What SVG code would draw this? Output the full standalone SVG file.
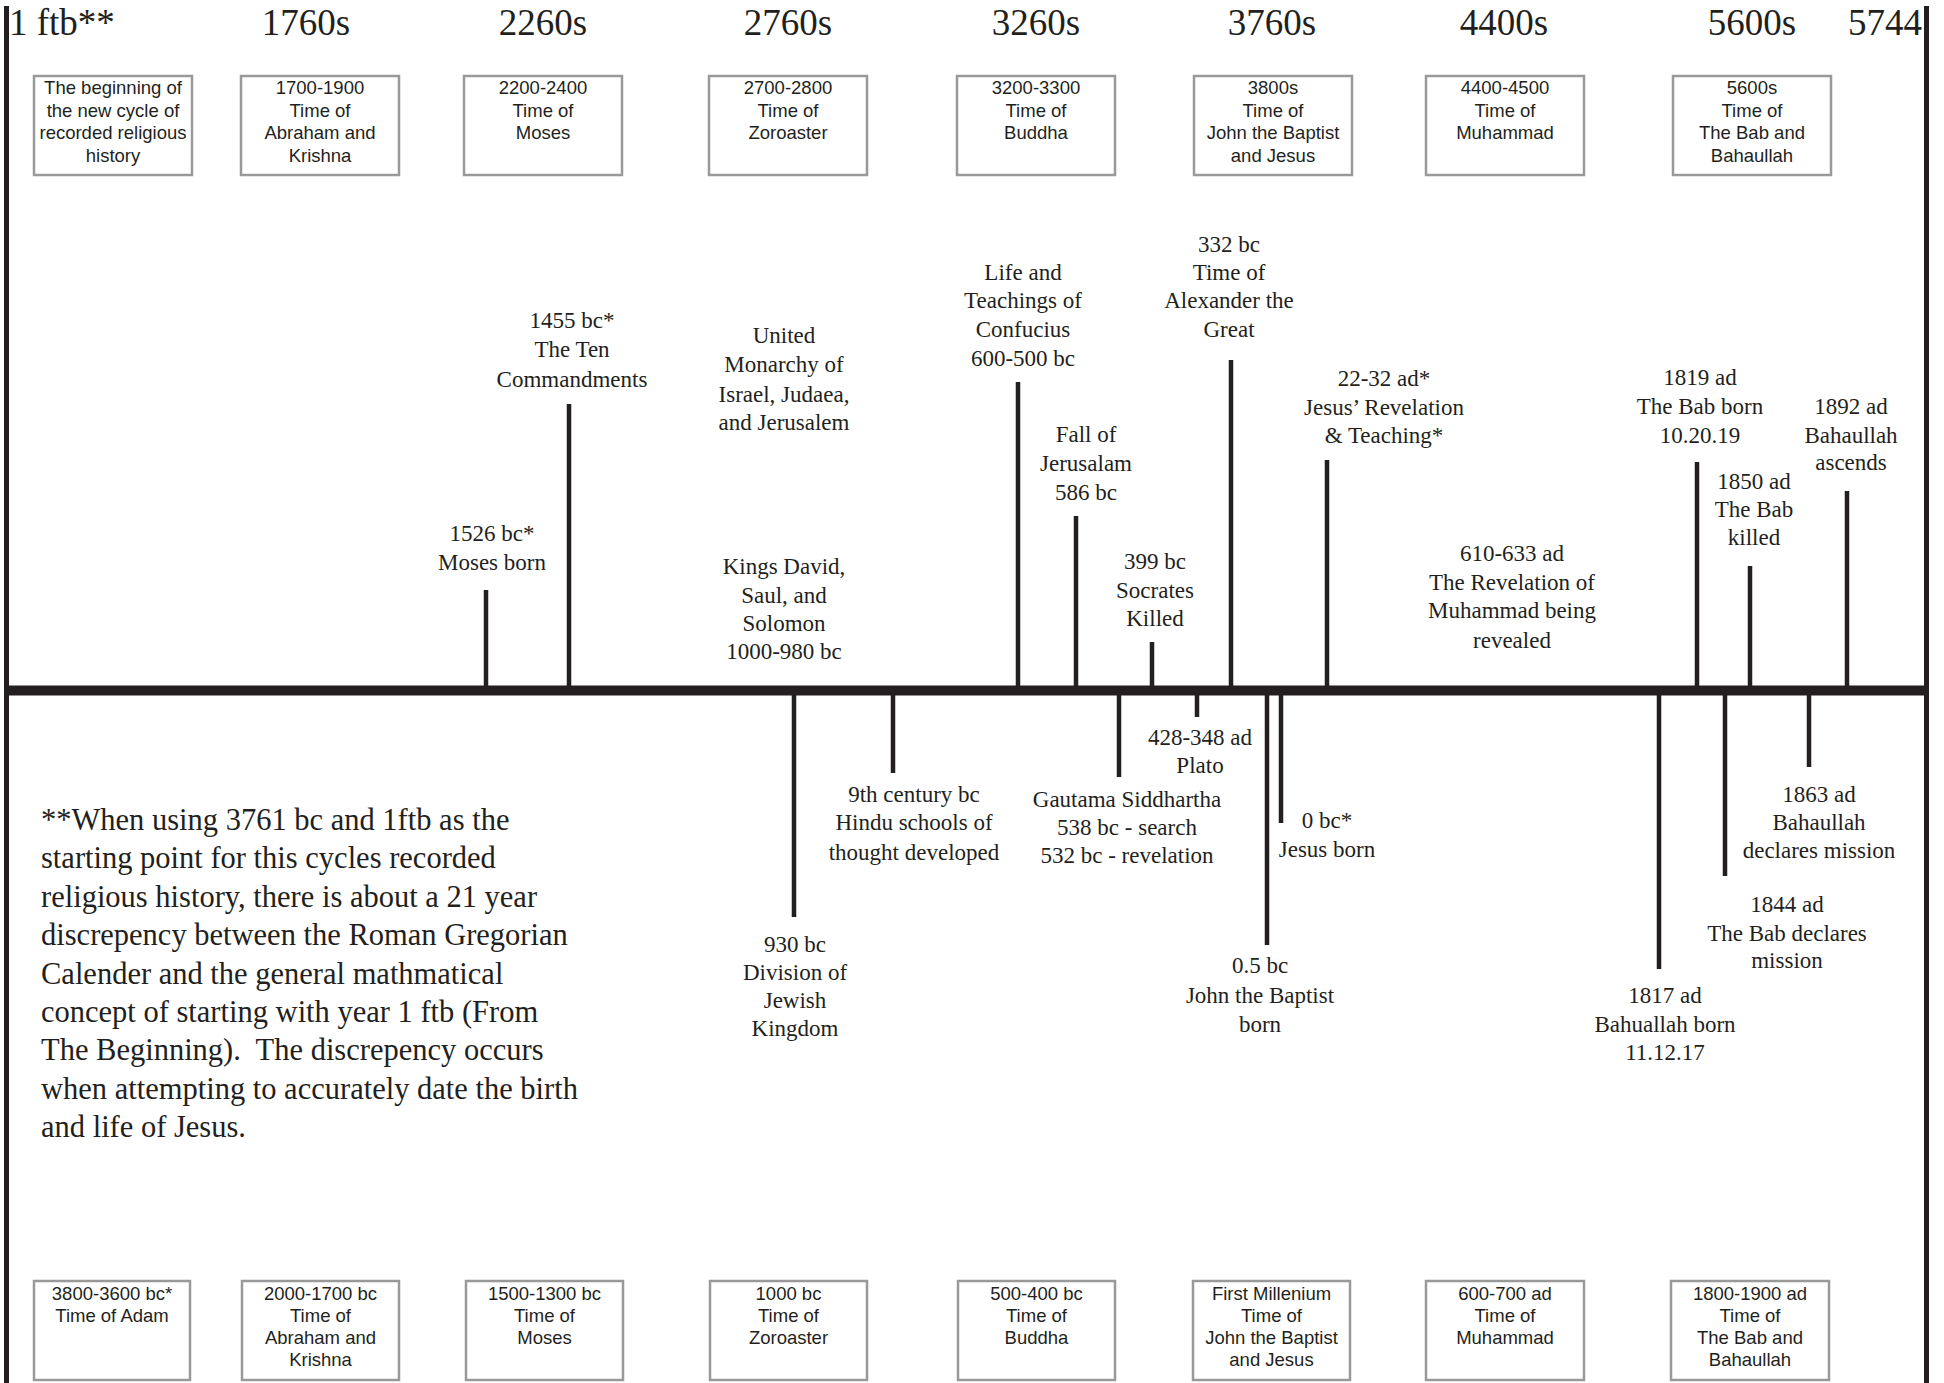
<svg xmlns="http://www.w3.org/2000/svg" width="1944" height="1383" viewBox="0 0 1944 1383">
<style>
.hdr{font-family:"Liberation Serif","Times New Roman",serif;font-size:37px;fill:#231f20}
.lbl{font-family:"Liberation Serif","Times New Roman",serif;font-size:23px;fill:#231f20;text-anchor:middle}
.para{font-family:"Liberation Serif","Times New Roman",serif;font-size:30.5px;fill:#231f20;white-space:pre}
.box rect{fill:#fff;stroke:#999;stroke-width:2.5}
.box text{font-family:"Liberation Sans",Arial,sans-serif;font-size:18.5px;fill:#231f20;text-anchor:middle}
.tick{stroke:#231f20;stroke-width:4.5;fill:none}
.axis{stroke:#231f20;fill:none}
</style>
<rect width="1944" height="1383" fill="#fff"/>
<g id="axis">
<line class="axis" x1="6.5" y1="6" x2="6.5" y2="1383" stroke-width="5"/>
<line class="axis" x1="1926.5" y1="6" x2="1926.5" y2="1383" stroke-width="5"/>
<line class="axis" x1="4" y1="690.5" x2="1929" y2="690.5" stroke-width="10"/>
</g>
<g id="headers">
<text class="hdr" x="9" y="35">1 ftb**</text>
<text class="hdr" x="306" y="35" text-anchor="middle">1760s</text>
<text class="hdr" x="543" y="35" text-anchor="middle">2260s</text>
<text class="hdr" x="788" y="35" text-anchor="middle">2760s</text>
<text class="hdr" x="1036" y="35" text-anchor="middle">3260s</text>
<text class="hdr" x="1272" y="35" text-anchor="middle">3760s</text>
<text class="hdr" x="1504" y="35" text-anchor="middle">4400s</text>
<text class="hdr" x="1752" y="35" text-anchor="middle">5600s</text>
<text class="hdr" x="1922" y="35" text-anchor="end">5744</text>
</g>
<g id="top-box-1" class="box"><rect x="34" y="76" width="158" height="99"/><text x="113" y="94">The beginning of</text><text x="113" y="116.5">the new cycle of</text><text x="113" y="139">recorded religious</text><text x="113" y="161.5">history</text></g>
<g id="top-box-2" class="box"><rect x="241" y="76" width="158" height="99"/><text x="320" y="94">1700-1900</text><text x="320" y="116.5">Time of</text><text x="320" y="139">Abraham and</text><text x="320" y="161.5">Krishna</text></g>
<g id="top-box-3" class="box"><rect x="464" y="76" width="158" height="99"/><text x="543" y="94">2200-2400</text><text x="543" y="116.5">Time of</text><text x="543" y="139">Moses</text></g>
<g id="top-box-4" class="box"><rect x="709" y="76" width="158" height="99"/><text x="788" y="94">2700-2800</text><text x="788" y="116.5">Time of</text><text x="788" y="139">Zoroaster</text></g>
<g id="top-box-5" class="box"><rect x="957" y="76" width="158" height="99"/><text x="1036" y="94">3200-3300</text><text x="1036" y="116.5">Time of</text><text x="1036" y="139">Buddha</text></g>
<g id="top-box-6" class="box"><rect x="1194" y="76" width="158" height="99"/><text x="1273" y="94">3800s</text><text x="1273" y="116.5">Time of</text><text x="1273" y="139">John the Baptist</text><text x="1273" y="161.5">and Jesus</text></g>
<g id="top-box-7" class="box"><rect x="1426" y="76" width="158" height="99"/><text x="1505" y="94">4400-4500</text><text x="1505" y="116.5">Time of</text><text x="1505" y="139">Muhammad</text></g>
<g id="top-box-8" class="box"><rect x="1673" y="76" width="158" height="99"/><text x="1752" y="94">5600s</text><text x="1752" y="116.5">Time of</text><text x="1752" y="139">The Bab and</text><text x="1752" y="161.5">Bahaullah</text></g>
<g id="bottom-box-1" class="box"><rect x="34" y="1281" width="156" height="99"/><text x="112" y="1300">3800-3600 bc*</text><text x="112" y="1322">Time of Adam</text></g>
<g id="bottom-box-2" class="box"><rect x="242" y="1281" width="157" height="99"/><text x="320.5" y="1300">2000-1700 bc</text><text x="320.5" y="1322">Time of</text><text x="320.5" y="1344">Abraham and</text><text x="320.5" y="1366">Krishna</text></g>
<g id="bottom-box-3" class="box"><rect x="466" y="1281" width="157" height="99"/><text x="544.5" y="1300">1500-1300 bc</text><text x="544.5" y="1322">Time of</text><text x="544.5" y="1344">Moses</text></g>
<g id="bottom-box-4" class="box"><rect x="710" y="1281" width="157" height="99"/><text x="788.5" y="1300">1000 bc</text><text x="788.5" y="1322">Time of</text><text x="788.5" y="1344">Zoroaster</text></g>
<g id="bottom-box-5" class="box"><rect x="958" y="1281" width="157" height="99"/><text x="1036.5" y="1300">500-400 bc</text><text x="1036.5" y="1322">Time of</text><text x="1036.5" y="1344">Buddha</text></g>
<g id="bottom-box-6" class="box"><rect x="1193" y="1281" width="157" height="99"/><text x="1271.5" y="1300">First Millenium</text><text x="1271.5" y="1322">Time of</text><text x="1271.5" y="1344">John the Baptist</text><text x="1271.5" y="1366">and Jesus</text></g>
<g id="bottom-box-7" class="box"><rect x="1426" y="1281" width="158" height="99"/><text x="1505" y="1300">600-700 ad</text><text x="1505" y="1322">Time of</text><text x="1505" y="1344">Muhammad</text></g>
<g id="bottom-box-8" class="box"><rect x="1671" y="1281" width="158" height="99"/><text x="1750" y="1300">1800-1900 ad</text><text x="1750" y="1322">Time of</text><text x="1750" y="1344">The Bab and</text><text x="1750" y="1366">Bahaullah</text></g>
<g id="connectors">
<line class="tick" x1="486" y1="686" x2="486" y2="590"/>
<line class="tick" x1="569" y1="686" x2="569" y2="404"/>
<line class="tick" x1="1018" y1="686" x2="1018" y2="382"/>
<line class="tick" x1="1076" y1="686" x2="1076" y2="516"/>
<line class="tick" x1="1152" y1="686" x2="1152" y2="642"/>
<line class="tick" x1="1231" y1="686" x2="1231" y2="360"/>
<line class="tick" x1="1327" y1="686" x2="1327" y2="460"/>
<line class="tick" x1="1697" y1="686" x2="1697" y2="462"/>
<line class="tick" x1="1750" y1="686" x2="1750" y2="566"/>
<line class="tick" x1="1847" y1="686" x2="1847" y2="491"/>
<line class="tick" x1="794" y1="695" x2="794" y2="917"/>
<line class="tick" x1="893" y1="695" x2="893" y2="773"/>
<line class="tick" x1="1119" y1="695" x2="1119" y2="777"/>
<line class="tick" x1="1197" y1="695" x2="1197" y2="717"/>
<line class="tick" x1="1267" y1="695" x2="1267" y2="945"/>
<line class="tick" x1="1281" y1="695" x2="1281" y2="823"/>
<line class="tick" x1="1659" y1="695" x2="1659" y2="969"/>
<line class="tick" x1="1725" y1="695" x2="1725" y2="876"/>
<line class="tick" x1="1809" y1="695" x2="1809" y2="767"/>
</g>
<g id="ev-moses-born" class="lbl"><text x="492" y="541">1526 bc*</text><text x="492" y="570">Moses born</text></g>
<g id="ev-ten-commandments" class="lbl"><text x="572" y="328">1455 bc*</text><text x="572" y="357">The Ten</text><text x="572" y="387">Commandments</text></g>
<g id="ev-united-monarchy" class="lbl"><text x="784" y="343">United</text><text x="784" y="372">Monarchy of</text><text x="784" y="402">Israel, Judaea,</text><text x="784" y="430">and Jerusalem</text></g>
<g id="ev-kings" class="lbl"><text x="784" y="574">Kings David,</text><text x="784" y="603">Saul, and</text><text x="784" y="631">Solomon</text><text x="784" y="659">1000-980 bc</text></g>
<g id="ev-confucius" class="lbl"><text x="1023" y="280">Life and</text><text x="1023" y="308">Teachings of</text><text x="1023" y="337">Confucius</text><text x="1023" y="366">600-500 bc</text></g>
<g id="ev-alexander" class="lbl"><text x="1229" y="252">332 bc</text><text x="1229" y="280">Time of</text><text x="1229" y="308">Alexander the</text><text x="1229" y="337">Great</text></g>
<g id="ev-fall-jerusalem" class="lbl"><text x="1086" y="442">Fall of</text><text x="1086" y="471">Jerusalam</text><text x="1086" y="500">586 bc</text></g>
<g id="ev-socrates" class="lbl"><text x="1155" y="569">399 bc</text><text x="1155" y="598">Socrates</text><text x="1155" y="626">Killed</text></g>
<g id="ev-jesus-revelation" class="lbl"><text x="1384" y="386">22-32 ad*</text><text x="1384" y="415">Jesus’ Revelation</text><text x="1384" y="443">&amp; Teaching*</text></g>
<g id="ev-muhammad" class="lbl"><text x="1512" y="561">610-633 ad</text><text x="1512" y="590">The Revelation of</text><text x="1512" y="618">Muhammad being</text><text x="1512" y="648">revealed</text></g>
<g id="ev-bab-born" class="lbl"><text x="1700" y="385">1819 ad</text><text x="1700" y="414">The Bab born</text><text x="1700" y="443">10.20.19</text></g>
<g id="ev-bahaullah-ascends" class="lbl"><text x="1851" y="414">1892 ad</text><text x="1851" y="443">Bahaullah</text><text x="1851" y="470">ascends</text></g>
<g id="ev-bab-killed" class="lbl"><text x="1754" y="489">1850 ad</text><text x="1754" y="517">The Bab</text><text x="1754" y="545">killed</text></g>
<g id="ev-hindu" class="lbl"><text x="914" y="802">9th century bc</text><text x="914" y="830">Hindu schools of</text><text x="914" y="860">thought developed</text></g>
<g id="ev-division" class="lbl"><text x="795" y="952">930 bc</text><text x="795" y="980">Division of</text><text x="795" y="1008">Jewish</text><text x="795" y="1036">Kingdom</text></g>
<g id="ev-gautama" class="lbl"><text x="1127" y="807">Gautama Siddhartha</text><text x="1127" y="835">538 bc - search</text><text x="1127" y="863">532 bc - revelation</text></g>
<g id="ev-plato" class="lbl"><text x="1200" y="745">428-348 ad</text><text x="1200" y="773">Plato</text></g>
<g id="ev-jesus-born" class="lbl"><text x="1327" y="828">0 bc*</text><text x="1327" y="857">Jesus born</text></g>
<g id="ev-john-born" class="lbl"><text x="1260" y="973">0.5 bc</text><text x="1260" y="1003">John the Baptist</text><text x="1260" y="1032">born</text></g>
<g id="ev-bahaullah-born" class="lbl"><text x="1665" y="1003">1817 ad</text><text x="1665" y="1032">Bahuallah born</text><text x="1665" y="1060">11.12.17</text></g>
<g id="ev-bab-declares" class="lbl"><text x="1787" y="912">1844 ad</text><text x="1787" y="941">The Bab declares</text><text x="1787" y="968">mission</text></g>
<g id="ev-bahaullah-declares" class="lbl"><text x="1819" y="802">1863 ad</text><text x="1819" y="830">Bahaullah</text><text x="1819" y="858">declares mission</text></g>
<g id="note" class="para" xml:space="preserve">
<text x="41" y="830">**When using 3761 bc and 1ftb as the</text>
<text x="41" y="868.4">starting point for this cycles recorded</text>
<text x="41" y="906.8">religious history, there is about a 21 year</text>
<text x="41" y="945.2">discrepency between the Roman Gregorian</text>
<text x="41" y="983.6">Calender and the general mathmatical</text>
<text x="41" y="1022">concept of starting with year 1 ftb (From</text>
<text x="41" y="1060.4" xml:space="preserve">The Beginning).  The discrepency occurs</text>
<text x="41" y="1098.8">when attempting to accurately date the birth</text>
<text x="41" y="1137.2">and life of Jesus.</text>
</g>
</svg>
